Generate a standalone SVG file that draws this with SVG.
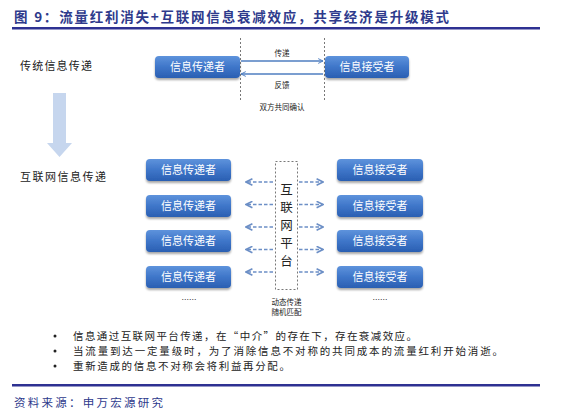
<svg xmlns="http://www.w3.org/2000/svg" width="568" height="414" viewBox="0 0 568 414">
<defs>
<linearGradient id="boxg" x1="0" y1="0" x2="0" y2="1">
<stop offset="0" stop-color="#5E93DC"/>
<stop offset="0.5" stop-color="#3F76C9"/>
<stop offset="1" stop-color="#2A5FB2"/>
</linearGradient>
<filter id="sh" x="-10%" y="-20%" width="120%" height="160%">
<feGaussianBlur in="SourceAlpha" stdDeviation="1.2"/>
<feOffset dy="1.5" result="b"/>
<feComponentTransfer><feFuncA type="linear" slope="0.35"/></feComponentTransfer>
<feMerge><feMergeNode/><feMergeNode in="SourceGraphic"/></feMerge>
</filter>
<marker id="ah" viewBox="0 0 10 10" refX="9" refY="5" markerWidth="6" markerHeight="6" markerUnits="userSpaceOnUse" orient="auto-start-reverse">
<path d="M1,1 L9,5 L1,9" fill="none" stroke="#4F7EC0" stroke-width="1.6"/>
</marker>
<marker id="ad" viewBox="0 0 10 10" refX="9" refY="5" markerWidth="8" markerHeight="8" markerUnits="userSpaceOnUse" orient="auto-start-reverse">
<path d="M1,1 L9,5 L1,9" fill="none" stroke="#6C8FC6" stroke-width="2"/>
</marker>
</defs>
<style>
.t{font-family:"Noto Sans CJK SC","Noto Sans",sans-serif;}
.title{font-size:13.5px;font-weight:bold;fill:#2E3A8C;}
.box rect{fill:url(#boxg);filter:url(#sh);}
.box text{font-size:11px;fill:#FFFFFF;text-anchor:middle;}
.lbl{font-size:11px;fill:#222;}
.sm{font-size:7.5px;fill:#222;text-anchor:middle;}
.bul{font-size:10.5px;fill:#222;}
.vd{stroke:#555;stroke-width:0.8;stroke-dasharray:2,2;fill:none;}
.sol{stroke:#4F7EC0;stroke-width:1.4;fill:none;}
.dsh{stroke:#6C8FC6;stroke-width:1.6;stroke-dasharray:3.5,2;fill:none;}
</style>
<rect width="568" height="414" fill="#FFFFFF"/>
<text class="t title" x="14" y="22" textLength="435" lengthAdjust="spacing">图 9：流量红利消失+互联网信息衰减效应，共享经济是升级模式</text>
<rect x="12" y="27" width="528" height="2.5" fill="#2E3192"/>

<text class="t lbl" x="20" y="70" textLength="72" lengthAdjust="spacing">传统信息传递</text>
<text class="t lbl" x="20" y="181" textLength="86" lengthAdjust="spacing">互联网信息传递</text>
<path d="M53,93 H66 V143 H72 L59.5,157 L47,143 H53 Z" fill="#C6D6EE"/>

<g id="top-sender" class="box"><rect x="155" y="56" width="85" height="22" rx="4"/><text class="t" x="197.5" y="71">信息传递者</text></g>
<g id="top-receiver" class="box"><rect x="325" y="56" width="84" height="22" rx="4"/><text class="t" x="367" y="71">信息接受者</text></g>

<g id="s1" class="box"><rect x="146" y="159" width="85" height="22" rx="4"/><text class="t" x="188.5" y="174">信息传递者</text></g>
<g id="s2" class="box"><rect x="146" y="195" width="85" height="22" rx="4"/><text class="t" x="188.5" y="210">信息传递者</text></g>
<g id="s3" class="box"><rect x="146" y="230" width="85" height="22" rx="4"/><text class="t" x="188.5" y="245">信息传递者</text></g>
<g id="s4" class="box"><rect x="146" y="266" width="85" height="22" rx="4"/><text class="t" x="188.5" y="281">信息传递者</text></g>
<g id="r1" class="box"><rect x="337" y="159" width="86" height="22" rx="4"/><text class="t" x="380" y="174">信息接受者</text></g>
<g id="r2" class="box"><rect x="337" y="195" width="86" height="22" rx="4"/><text class="t" x="380" y="210">信息接受者</text></g>
<g id="r3" class="box"><rect x="337" y="230" width="86" height="22" rx="4"/><text class="t" x="380" y="245">信息接受者</text></g>
<g id="r4" class="box"><rect x="337" y="266" width="86" height="22" rx="4"/><text class="t" x="380" y="281">信息接受者</text></g>

<g id="platform">
<rect x="275.5" y="161.5" width="22" height="128" class="vd"/>
<text class="t" font-size="12.5" fill="#222" text-anchor="middle" x="286.5" y="194">互</text>
<text class="t" font-size="12.5" fill="#222" text-anchor="middle" x="286.5" y="212">联</text>
<text class="t" font-size="12.5" fill="#222" text-anchor="middle" x="286.5" y="230">网</text>
<text class="t" font-size="12.5" fill="#222" text-anchor="middle" x="286.5" y="248">平</text>
<text class="t" font-size="12.5" fill="#222" text-anchor="middle" x="286.5" y="266">台</text>
</g>

<g id="connectors">
<line class="vd" x1="240.5" y1="38" x2="240.5" y2="102"/>
<line class="vd" x1="324.5" y1="38" x2="324.5" y2="102"/>
<line class="sol" x1="241" y1="61" x2="323" y2="61" marker-end="url(#ah)"/>
<line class="sol" x1="323" y1="74" x2="241" y2="74" marker-end="url(#ah)"/>
<line class="dsh" x1="273" y1="182" x2="246" y2="182" marker-end="url(#ad)"/>
<line class="dsh" x1="273" y1="204.5" x2="246" y2="204.5" marker-end="url(#ad)"/>
<line class="dsh" x1="273" y1="227" x2="246" y2="227" marker-end="url(#ad)"/>
<line class="dsh" x1="273" y1="249.5" x2="246" y2="249.5" marker-end="url(#ad)"/>
<line class="dsh" x1="273" y1="272" x2="246" y2="272" marker-end="url(#ad)"/>
<line class="dsh" x1="299" y1="182" x2="323" y2="182" marker-end="url(#ad)"/>
<line class="dsh" x1="299" y1="204.5" x2="323" y2="204.5" marker-end="url(#ad)"/>
<line class="dsh" x1="299" y1="227" x2="323" y2="227" marker-end="url(#ad)"/>
<line class="dsh" x1="299" y1="249.5" x2="323" y2="249.5" marker-end="url(#ad)"/>
<line class="dsh" x1="299" y1="272" x2="323" y2="272" marker-end="url(#ad)"/>
</g>

<text class="t sm" x="282" y="56">传递</text>
<text class="t sm" x="282" y="88">反馈</text>
<text class="t sm" x="282" y="110">双方共同确认</text>
<text class="t sm" x="286.5" y="305">动态传递</text>
<text class="t sm" x="286.5" y="315">随机匹配</text>
<text class="t sm" x="189" y="303" fill="#444">……</text>
<text class="t sm" x="380" y="303" fill="#444">……</text>

<circle cx="55" cy="336" r="1.5" fill="#222"/>
<circle cx="55" cy="351" r="1.5" fill="#222"/>
<circle cx="55" cy="366" r="1.5" fill="#222"/>
<text class="t bul" x="73" y="340" textLength="344" lengthAdjust="spacing">信息通过互联网平台传递，在“中介”的存在下，存在衰减效应。</text>
<text class="t bul" x="73" y="355" textLength="430" lengthAdjust="spacing">当流量到达一定量级时，为了消除信息不对称的共同成本的流量红利开始消逝。</text>
<text class="t bul" x="73" y="370" textLength="217" lengthAdjust="spacing">重新造成的信息不对称会将利益再分配。</text>

<rect x="12" y="384" width="528" height="2.5" fill="#2E3192"/>
<text class="t" x="14" y="407" font-size="11.5" fill="#2E3A8C" textLength="149" lengthAdjust="spacing">资料来源：申万宏源研究</text>
</svg>
